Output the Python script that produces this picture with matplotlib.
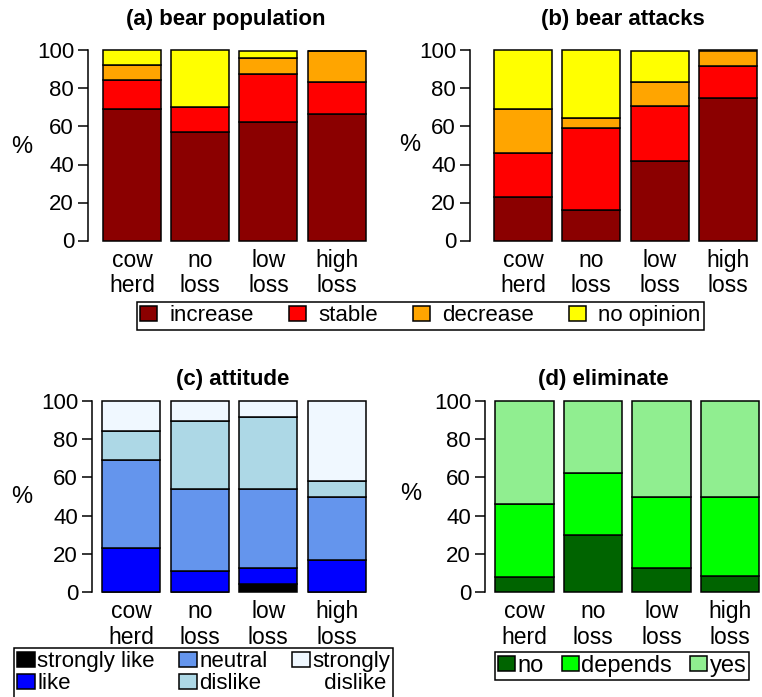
import numpy as np
import matplotlib
matplotlib.use('Agg')
import matplotlib.pyplot as plt
from matplotlib.patches import Rectangle

plt.rcParams['font.family'] = ['Liberation Sans', 'DejaVu Sans']

groups = ['cow\nherd', 'no\nloss', 'low\nloss', 'high\nloss']

# (a) bear population, % of respondents per group
pop_labels = ['increase', 'stable', 'decrease', 'no opinion']
pop_increase = [69.2, 56.9, 62.5, 66.7]
pop_stable = [15.4, 13.2, 25.0, 16.6]
pop_decrease = [7.7, 0.0, 8.3, 16.7]
pop_noopinion = [7.7, 29.9, 4.2, 0.0]

# (b) bear attacks
att_increase = [23.1, 15.8, 41.7, 75.0]
att_stable = [23.1, 43.4, 29.1, 16.7]
att_decrease = [23.0, 5.2, 12.5, 8.3]
att_noopinion = [30.8, 35.6, 16.7, 0.0]

# (c) attitude  (last label is split over two legend rows)
attitude_labels = ['strongly like', 'like', 'neutral', 'dislike', 'strongly', '  dislike']
strongly_like = [0.0, 0.0, 4.2, 0.0]
like = [23.1, 10.9, 8.3, 16.7]
neutral = [46.1, 43.1, 41.7, 33.3]
dislike = [15.4, 35.6, 37.5, 8.3]
strongly_dislike = [15.4, 10.4, 8.3, 41.7]

# (d) eliminate
elim_labels = ['no', 'depends', 'yes']
elim_no = [7.7, 29.7, 12.5, 8.3]
elim_depends = [38.5, 32.5, 37.5, 41.7]
elim_yes = [53.8, 37.8, 50.0, 50.0]

orange_cols = ['#8B0000', '#FF0000', '#FFA500', '#FFFF00']
blue_cols = ['#000000', '#0000FF', '#6495ED', '#ADD8E6', '#F0F8FF']
green_cols = ['#006400', '#00FF00', '#90EE90']

W, H = 762, 697
fig = plt.figure(figsize=(W / 100, H / 100), dpi=100)


def px_axes(left, right, bottom, top):
    return fig.add_axes([left / W, 1 - bottom / H, (right - left) / W, (bottom - top) / H])


def stacked(ax, series, colors, xlim):
    x = np.arange(len(groups))
    base = np.zeros(len(groups))
    handles = []
    for vals, c in zip(series, colors):
        b = ax.bar(x, vals, bottom=base, width=0.85, color=c,
                   edgecolor='black', linewidth=1.1)
        handles.append(b)
        base = base + np.array(vals)
    ax.set_xlim(*xlim)
    ax.set_ylim(-4, 104)
    for s in ['top', 'right', 'bottom']:
        ax.spines[s].set_visible(False)
    ax.spines['left'].set_bounds(0, 100)
    ax.spines['left'].set_linewidth(1.1)
    ax.set_yticks([0, 20, 40, 60, 80, 100])
    ax.tick_params(axis='y', labelsize=16, length=7, width=1.1, pad=3)
    ax.set_xticks(x, groups)
    ax.tick_params(axis='x', labelsize=16.5, length=0, pad=0.5)
    for t in ax.get_xticklabels():
        t.set_linespacing(1.15)
    return handles


ax_a = px_axes(88, 381, 248.1, 42.9)
h_a = stacked(ax_a, [pop_increase, pop_stable, pop_decrease, pop_noopinion],
              orange_cols, (-0.644, 3.65))

ax_b = px_axes(470, 762, 248.1, 42.9)
stacked(ax_b, [att_increase, att_stable, att_decrease, att_noopinion],
        orange_cols, (-0.776, 3.5))

ax_c = px_axes(92, 381.5, 599.3, 393.7)
h_c = stacked(ax_c, [strongly_like, like, neutral, dislike, strongly_dislike],
              blue_cols, (-0.57, 3.65))

ax_d = px_axes(485, 761, 599.3, 393.7)
h_d = stacked(ax_d, [elim_no, elim_depends, elim_yes], green_cols, (-0.576, 3.45))

# titles and y labels
for txt, xc, yc in [('(a) bear population', 225.5, 19), ('(b) bear attacks', 623, 19),
                    ('(c) attitude', 232.5, 380), ('(d) eliminate', 603.6, 380)]:
    fig.text(xc / W, 1 - yc / H, txt, ha='center', va='center',
             fontsize=16, fontweight='bold')
for xc, yc in [(22, 147), (410, 145), (22, 497), (411, 494)]:
    fig.text(xc / W, 1 - yc / H, '%', ha='center', va='center', fontsize=17)

leg_kw = dict(frameon=True, fancybox=False, framealpha=1, edgecolor='black',
              borderaxespad=0)

leg1 = fig.legend(h_a, pop_labels, loc='upper left', ncol=4, fontsize=16,
                  bbox_to_anchor=(137 / W, 1 - 302 / H),
                  handlelength=0.75, handleheight=0.65, handletextpad=0.55,
                  columnspacing=1.6, borderpad=0.15, **leg_kw)
leg1.get_frame().set_linewidth(1.1)

blank = Rectangle((0, 0), 1, 1, facecolor='none', edgecolor='none')
leg3 = fig.legend(h_c + [blank], attitude_labels, loc='upper left', ncol=3, fontsize=16,
                  bbox_to_anchor=(14 / W, 1 - 648 / H),
                  handlelength=0.8, handleheight=0.65, handletextpad=0.1,
                  columnspacing=1.1, labelspacing=0.05, borderpad=0.15, **leg_kw)
leg3.get_frame().set_linewidth(1.1)

leg4 = fig.legend(h_d, elim_labels, loc='upper left', ncol=3, fontsize=17,
                  bbox_to_anchor=(495 / W, 1 - 652 / H),
                  handlelength=0.72, handleheight=0.65, handletextpad=0.12,
                  columnspacing=0.75, borderpad=0.12, **leg_kw)
leg4.get_frame().set_linewidth(1.1)

plt.savefig('out.png', dpi=100)
